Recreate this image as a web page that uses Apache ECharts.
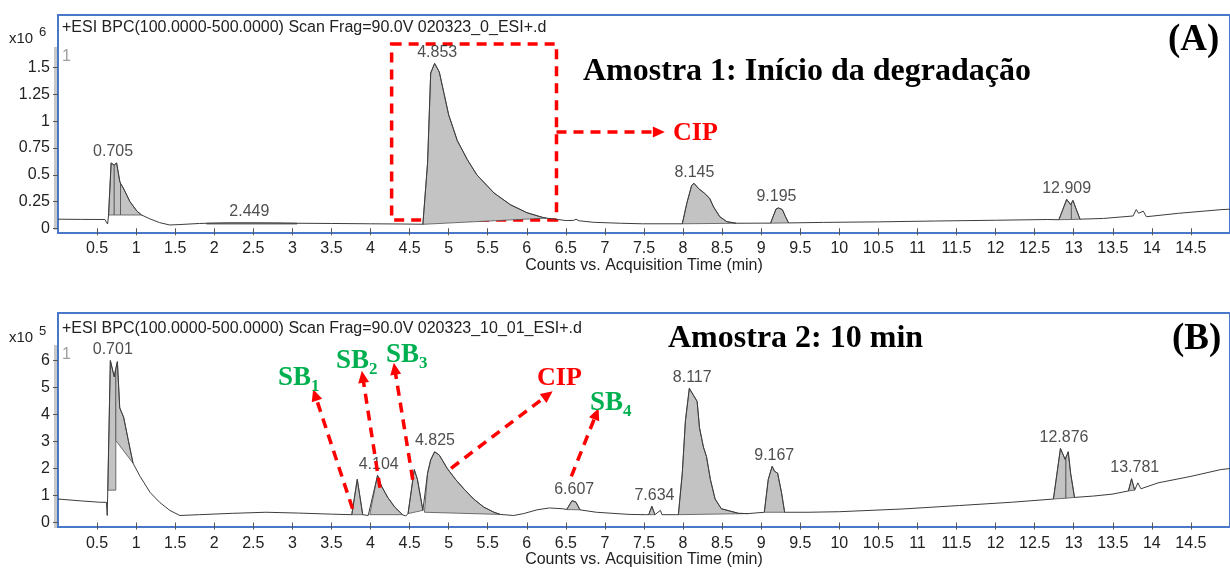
<!DOCTYPE html>
<html><head><meta charset="utf-8">
<script src="https://cdn.jsdelivr.net/npm/echarts@6/dist/echarts.min.js"></script>
<style>html,body{margin:0;padding:0;background:#fff}#c{width:1230px;height:569px}</style>
</head><body><div id="c"></div>
<script>
// ---------- Panel A (x10^6 counts) ----------
const timeA = [0, 0.3, 0.6, 0.635, 0.647, 0.68, 0.72, 0.75, 0.79, 0.8, 0.84, 0.92, 1.01, 1.07, 1.18, 1.3, 1.43, 1.56, 1.81, 1.9, 2.2, 2.5, 2.8, 3.06, 3.5, 4.0, 4.4, 4.67, 4.73, 4.77, 4.82, 4.88, 4.94, 5.0, 5.11, 5.24, 5.36, 5.58, 5.79, 6.0, 6.21, 6.25, 6.38, 6.5, 6.6, 6.63, 6.67, 6.85, 7.2, 7.48, 7.99, 8.05, 8.11, 8.14, 8.2, 8.27, 8.34, 8.39, 8.47, 8.56, 8.68, 9.0, 9.12, 9.19, 9.22, 9.27, 9.31, 9.35, 9.8, 10.5, 11.23, 12.0, 12.66, 12.81, 12.91, 12.96, 12.99, 13.08, 13.38, 13.76, 13.8, 13.83, 13.89, 13.93, 14.34, 14.9, 15];
const countsA = [0.085, 0.083, 0.082, 0.04, 0.124, 0.61, 0.59, 0.61, 0.44, 0.42, 0.37, 0.25, 0.16, 0.124, 0.087, 0.053, 0.031, 0.035, 0.045, 0.047, 0.05, 0.05, 0.049, 0.047, 0.045, 0.042, 0.04, 0.038, 0.61, 1.45, 1.54, 1.46, 1.26, 1.06, 0.82, 0.64, 0.5, 0.33, 0.22, 0.146, 0.1, 0.095, 0.084, 0.072, 0.074, 0.085, 0.07, 0.056, 0.047, 0.042, 0.042, 0.24, 0.4, 0.42, 0.37, 0.33, 0.28, 0.2, 0.108, 0.062, 0.047, 0.048, 0.048, 0.18, 0.19, 0.175, 0.11, 0.05, 0.055, 0.06, 0.068, 0.075, 0.082, 0.08, 0.27, 0.22, 0.26, 0.085, 0.092, 0.115, 0.175, 0.14, 0.16, 0.108, 0.14, 0.175, 0.178];
// integrated regions: [tStart, tEnd, baseStart, baseEnd]
const fillsA = [[0.647,0.72,0.124,0.124],[0.72,0.8,0.124,0.124],[0.8,1.07,0.124,0.124],[1.9,3.06,0.04,0.04],[4.67,6.25,0.037,0.095],[7.99,8.68,0.042,0.047],[9.12,9.35,0.048,0.05],[12.81,12.97,0.08,0.082],[12.97,13.08,0.082,0.085]];
const peakRtA = [0.705, 2.449, 4.853, 8.145, 9.195, 12.909];
const peakApexA = [0.61, 0.05, 1.54, 0.42, 0.19, 0.27];
const yTicksA = [0, 0.25, 0.5, 0.75, 1, 1.25, 1.5];
const yRangeA = [-0.044, 1.992];
const boxA = [[4.27, 1.72], [6.38, 0.078]];
const arrowsA = [[6.38, 0.90, 7.69, 0.90]];

// ---------- Panel B (x10^5 counts) ----------
const timeB = [0, 0.3, 0.54, 0.62, 0.63, 0.637, 0.67, 0.72, 0.74, 0.76, 0.79, 0.84, 0.9, 0.96, 1.05, 1.18, 1.3, 1.43, 1.56, 1.81, 2.23, 2.66, 3.08, 3.5, 3.76, 3.83, 3.9, 3.97, 3.99, 4.09, 4.14, 4.22, 4.31, 4.41, 4.45, 4.48, 4.56, 4.6, 4.67, 4.69, 4.73, 4.77, 4.82, 4.88, 4.98, 5.09, 5.2, 5.32, 5.45, 5.58, 5.66, 5.83, 5.96, 6.13, 6.29, 6.46, 6.51, 6.58, 6.63, 6.68, 6.89, 7.31, 7.52, 7.56, 7.6, 7.64, 7.71, 7.73, 7.9, 7.94, 7.99, 8.03, 8.08, 8.13, 8.18, 8.21, 8.26, 8.3, 8.35, 8.41, 8.49, 8.71, 8.83, 9.04, 9.09, 9.14, 9.17, 9.21, 9.26, 9.3, 9.6, 10.0, 10.8, 11.54, 12.2, 12.74, 12.83, 12.89, 12.93, 12.96, 13.01, 13.25, 13.49, 13.7, 13.74, 13.78, 13.82, 13.86, 14.08, 14.5, 14.88, 15];
const countsB = [0.87, 0.8, 0.75, 0.75, 0.26, 1.2, 6.0, 5.4, 5.7, 5.96, 4.25, 3.9, 3.04, 2.2, 1.71, 1.11, 0.75, 0.45, 0.26, 0.29, 0.34, 0.38, 0.35, 0.31, 0.29, 1.6, 0.29, 0.26, 0.29, 1.75, 1.35, 0.93, 0.57, 0.29, 0.24, 0.33, 1.96, 1.6, 0.45, 0.38, 1.83, 2.32, 2.62, 2.5, 2.01, 1.59, 1.23, 0.87, 0.57, 0.38, 0.3, 0.26, 0.33, 0.47, 0.54, 0.51, 0.48, 0.81, 0.75, 0.47, 0.38, 0.3, 0.29, 0.29, 0.6, 0.29, 0.45, 0.29, 0.29, 0.29, 1.83, 3.77, 4.97, 4.73, 4.49, 3.52, 2.8, 2.44, 1.59, 0.87, 0.51, 0.34, 0.33, 0.38, 1.59, 2.08, 1.9, 1.83, 1.11, 0.38, 0.38, 0.4, 0.5, 0.63, 0.75, 0.87, 2.74, 2.34, 2.62, 1.83, 0.93, 0.98, 1.05, 1.17, 1.62, 1.2, 1.47, 1.25, 1.47, 1.71, 1.96, 2.0];
const fillsB = [[0.637,0.74,1.2,1.2],[0.74,0.96,3.04,2.2],[3.76,3.9,0.29,0.29],[3.99,4.41,0.29,0.29],[4.48,4.67,0.33,0.45],[4.69,5.66,0.38,0.3],[6.51,6.68,0.48,0.47],[7.56,7.64,0.29,0.29],[7.94,8.83,0.29,0.33],[9.04,9.3,0.38,0.38],[12.74,12.9,0.87,0.9],[12.9,13.01,0.9,0.93],[13.7,13.78,1.17,1.2]];
const peakRtB = [0.701, 4.104, 4.825, 6.607, 7.634, 8.117, 9.167, 12.876, 13.781];
const peakApexB = [6.0, 1.75, 2.62, 0.81, 0.6, 4.97, 2.08, 2.74, 1.62];
const yTicksB = [0, 1, 2, 3, 4, 5, 6];
const yRangeB = [-0.17, 7.764];
const arrowsB = [[3.77, 0.51, 3.29, 4.73], [4.12, 1.29, 3.90, 5.40], [4.54, 1.59, 4.31, 5.70], [5.03, 2.01, 6.27, 4.73], [6.57, 1.71, 6.89, 4.03]];

const xRange = [0, 15];
const xStep = 0.5;

// ---------- helpers ----------
const SANS = '"Liberation Sans", Arial, sans-serif';
const SERIF = '"Liberation Serif", "Times New Roman", serif';
const RED = '#ff0000';
const GREEN = '#00b050';

function interp(ts, vs, t) {
  for (let i = 0; i < ts.length - 1; i++) {
    if (t >= ts[i] && t <= ts[i + 1]) {
      const f = (t - ts[i]) / (ts[i + 1] - ts[i]);
      return vs[i] + f * (vs[i + 1] - vs[i]);
    }
  }
  return vs[vs.length - 1];
}
function fillRender(ts, vs) {
  return function (params, api) {
    const t0 = api.value(0), t1 = api.value(1), b0 = api.value(2), b1 = api.value(3);
    const pts = [api.coord([t0, b0]), api.coord([t0, interp(ts, vs, t0)])];
    for (let i = 0; i < ts.length; i++) {
      if (ts[i] > t0 && ts[i] < t1) pts.push(api.coord([ts[i], vs[i]]));
    }
    pts.push(api.coord([t1, interp(ts, vs, t1)]));
    pts.push(api.coord([t1, b1]));
    return { type: 'polygon', shape: { points: pts }, style: { fill: '#c3c3c3', stroke: '#505050', lineWidth: 0.8 } };
  };
}
function xAxisCfg(gi) {
  return {
    type: 'value', gridIndex: gi, min: xRange[0], max: xRange[1], interval: xStep,
    axisLine: { show: false }, splitLine: { show: false },
    axisTick: { show: true, length: 7, lineStyle: { color: '#555', width: 1 } },
    axisLabel: { margin: 8, fontSize: 16, color: '#222', fontFamily: SANS, showMinLabel: false, showMaxLabel: false,
      formatter: v => (v === xRange[0] || v === xRange[1]) ? '' : String(v) },
    name: 'Counts vs. Acquisition Time (min)', nameLocation: 'middle', nameGap: 22,
    nameTextStyle: { fontSize: 16, color: '#222', fontFamily: SANS }
  };
}
function yAxisCfg(gi, range, ticks) {
  return {
    type: 'value', gridIndex: gi, min: range[0], max: range[1],
    axisLine: { show: false }, splitLine: { show: false },
    axisTick: { show: true, length: 5, customValues: ticks, lineStyle: { color: '#555' } },
    axisLabel: { customValues: ticks, margin: 8, fontSize: 16, color: '#222', fontFamily: SANS }
  };
}
function pairs(ts, vs) { return ts.map((t, i) => [t, vs[i]]); }
function arrowData(list) { return list.map(a => [{ coord: [a[0], a[1]] }, { coord: [a[2], a[3]] }]); }
const dashStyle = { color: RED, width: 3.5, type: [10, 7] };

function traceSeries(gi, ts, vs, extra) {
  return Object.assign({
    type: 'line', xAxisIndex: gi, yAxisIndex: gi, data: pairs(ts, vs), symbol: 'none', z: 3,
    lineStyle: { color: '#3c3c3c', width: 1 }, silent: true, animation: false
  }, extra);
}
function fillSeries(gi, fills, ts, vs) {
  return { type: 'custom', xAxisIndex: gi, yAxisIndex: gi, data: fills, encode: { x: [0, 1], y: [2, 3] },
    renderItem: fillRender(ts, vs), z: 2, silent: true, animation: false };
}
function labelSeries(gi, rts, apex) {
  return { type: 'scatter', xAxisIndex: gi, yAxisIndex: gi, data: rts.map((t, i) => [t, apex[i]]), symbolSize: 0, z: 4, silent: true,
    label: { show: true, position: 'top', distance: 3, formatter: p => p.value[0].toFixed(3), fontSize: 16, color: '#222', fontFamily: SANS },
    animation: false };
}

function txt(x, y, text, font, fill, align) {
  return { type: 'text', x: x, y: y, z: 100, silent: true,
    style: { text: text, font: font, fill: fill, textAlign: align || 'left', textVerticalAlign: 'middle', align: align || 'left', verticalAlign: 'middle' } };
}
function sb(x, y, sub) {
  return [txt(x, y, 'SB', 'bold 27px ' + SERIF, GREEN), txt(x + 33, y + 9, sub, 'bold 17px ' + SERIF, GREEN)];
}

const graphics = [
  { type: 'rect', shape: { x: 54, y: 47, width: 3, height: 183 }, style: { fill: '#c8c8c8' }, silent: true },
  { type: 'rect', shape: { x: 54, y: 345, width: 3, height: 183 }, style: { fill: '#c8c8c8' }, silent: true },
  txt(62, 28, '+ESI BPC(100.0000-500.0000) Scan Frag=90.0V 020323_0_ESI+.d', '16px ' + SANS, '#222'),
  txt(62, 329, '+ESI BPC(100.0000-500.0000) Scan Frag=90.0V 020323_10_01_ESI+.d', '16px ' + SANS, '#222'),
  txt(62, 57, '1', '16px ' + SANS, '#a0a0a0'),
  txt(62, 355, '1', '16px ' + SANS, '#a0a0a0'),
  txt(9, 39, 'x10', '15px ' + SANS, '#222'),
  txt(39, 32, '6', '13px ' + SANS, '#222'),
  txt(9, 338, 'x10', '15px ' + SANS, '#222'),
  txt(39, 331, '5', '13px ' + SANS, '#222'),
  txt(583, 72, 'Amostra 1: Início da degradação', 'bold 32px ' + SERIF, '#000'),
  txt(1168, 40, '(A)', 'bold 37px ' + SERIF, '#000'),
  txt(668, 339, 'Amostra 2: 10 min', 'bold 32px ' + SERIF, '#000'),
  txt(1172, 339, '(B)', 'bold 37px ' + SERIF, '#000'),
  txt(673, 133, 'CIP', 'bold 26px ' + SERIF, RED),
  txt(537, 378, 'CIP', 'bold 26px ' + SERIF, RED)
].concat(sb(278, 378, '1'), sb(336, 361, '2'), sb(386, 355, '3'), sb(590, 403, '4'));

const chart = echarts.init(document.getElementById('c'), null, { renderer: 'canvas' });
chart.setOption({
  animation: false,
  backgroundColor: '#fff',
  grid: [
    { left: 58, top: 15, right: -10, height: 218, show: true, borderColor: '#4a78c8', borderWidth: 2, backgroundColor: 'transparent' },
    { left: 58, top: 313, right: -10, height: 219, show: true, borderColor: '#4a78c8', borderWidth: 2, backgroundColor: 'transparent' }
  ],
  xAxis: [xAxisCfg(0), xAxisCfg(1)],
  yAxis: [yAxisCfg(0, yRangeA, yTicksA), yAxisCfg(1, yRangeB, yTicksB)],
  series: [
    fillSeries(0, fillsA, timeA, countsA),
    traceSeries(0, timeA, countsA, {
      markLine: { silent: true, symbol: ['none', 'triangle'], symbolSize: [11, 12], label: { show: false }, lineStyle: dashStyle, data: arrowData(arrowsA), animation: false },
      markArea: { silent: true, label: { show: false }, itemStyle: { color: 'rgba(0,0,0,0)', borderColor: RED, borderWidth: 3.5, borderType: [10, 7] },
        data: [[{ coord: boxA[0] }, { coord: boxA[1] }]], animation: false }
    }),
    labelSeries(0, peakRtA, peakApexA),
    fillSeries(1, fillsB, timeB, countsB),
    traceSeries(1, timeB, countsB, {
      markLine: { silent: true, symbol: ['none', 'triangle'], symbolSize: [11, 12], label: { show: false }, lineStyle: dashStyle, data: arrowData(arrowsB), animation: false }
    }),
    labelSeries(1, peakRtB, peakApexB)
  ],
  graphic: graphics
});
</script>
</body></html>
